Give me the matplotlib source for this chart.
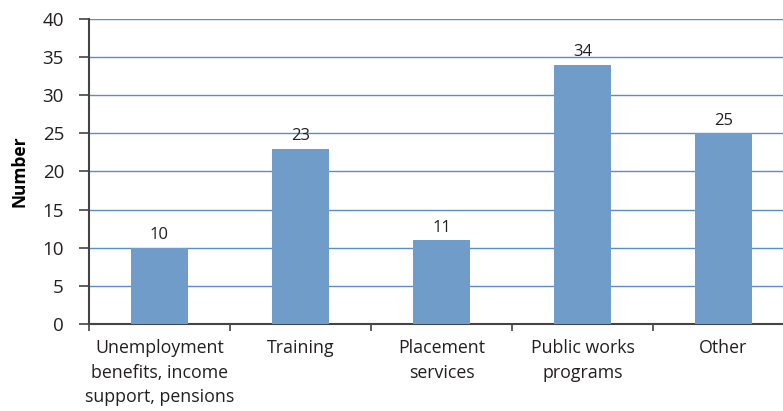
import matplotlib.pyplot as plt

plt.rcParams["font.family"] = ["Open Sans", "DejaVu Sans"]

categories = [
    "Unemployment\nbenefits, income\nsupport, pensions",
    "Training",
    "Placement\nservices",
    "Public works\nprograms",
    "Other",
]
values = [10, 23, 11, 34, 25]
y_ticks = [0, 5, 10, 15, 20, 25, 30, 35, 40]

fig = plt.figure(figsize=(7.83, 4.11), dpi=100)
# axes runs a little past the right edge
ax = fig.add_axes([89 / 783, (411 - 324) / 411, 705 / 783, 305 / 411])

x = range(len(values))
ax.bar(x, values, width=0.41, color="#6f9cc9", zorder=3)

for xi, v in zip(x, values):
    ax.text(xi, v + 0.6, str(v), ha="center", va="bottom",
            fontsize=12, color="#231f20")

ax.set_xlim(-0.5, 4.5)
ax.set_ylim(0, 40)
ax.set_yticks(y_ticks)
ax.yaxis.grid(True, color="#5b8ec8", linewidth=1.0, zorder=0)

# category labels centred, tick marks on the boundaries
ax.set_xticks([i - 0.5 for i in range(6)])
ax.set_xticklabels([])
ax.set_xticks(list(x), minor=True)
ax.set_xticklabels(categories, minor=True, fontsize=12.8, color="#231f20",
                   linespacing=1.45, va="top")
ax.tick_params(axis="x", which="minor", length=0, pad=11)
ax.tick_params(axis="x", which="major", length=5, width=1.2,
               color="#444444", direction="out")
ax.tick_params(axis="y", length=7, width=1.2, color="#444444",
               labelsize=13.5, labelcolor="#231f20", pad=11)

for side in ["top", "right"]:
    ax.spines[side].set_visible(False)
for side in ["left", "bottom"]:
    ax.spines[side].set_color("#444444")
    ax.spines[side].set_linewidth(1.5)

ax.set_ylabel("Number", fontsize=12.5, fontweight="bold", labelpad=10)

fig.savefig("out.png", dpi=100)
